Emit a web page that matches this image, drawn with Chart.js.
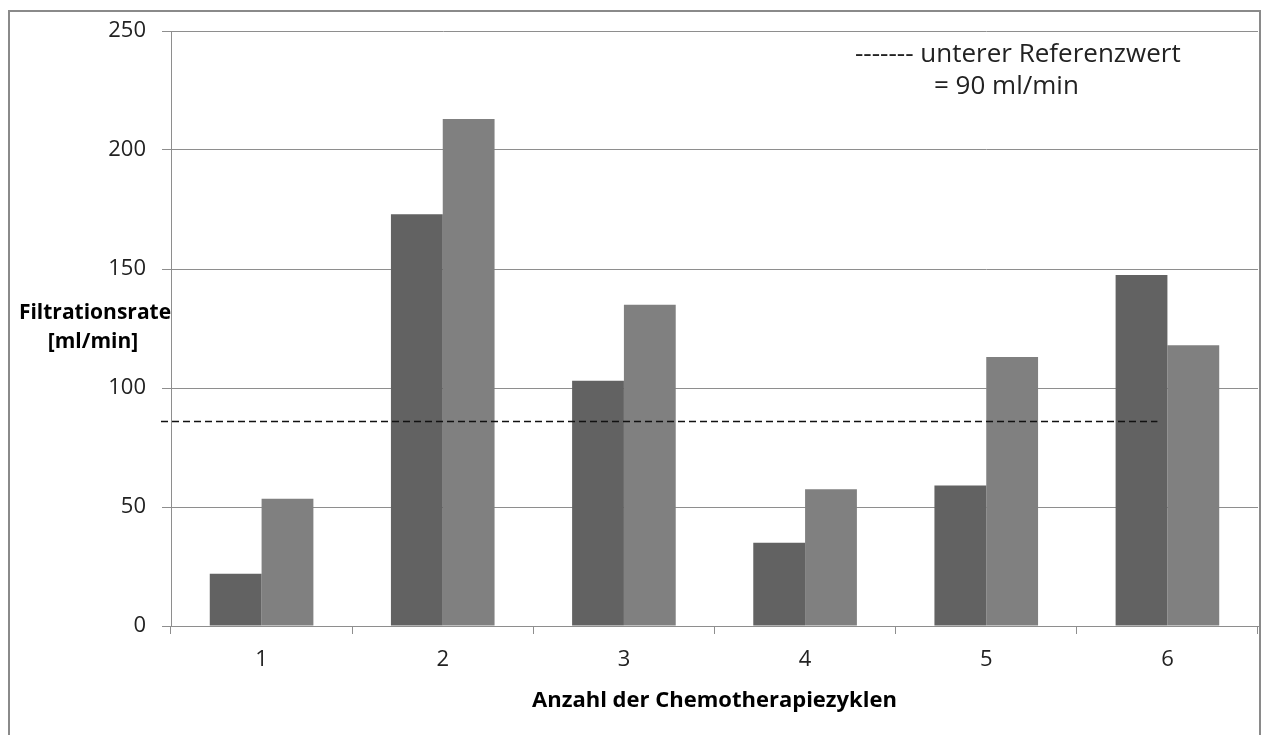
<!DOCTYPE html>
<html>
<head>
<meta charset="utf-8">
<script src="https://cdn.jsdelivr.net/npm/chart.js@4"></script>
<style>
  html, body { margin: 0; padding: 0; background: #fff; }
  #wrap { width: 1265px; height: 735px; }
</style>
</head>
<body>
<div id="wrap"><canvas id="chart" width="1265" height="735"></canvas></div>
<script>
const zyklen = ["1", "2", "3", "4", "5", "6"];
const werteA = [22, 173, 103, 35, 59, 147.5];
const werteB = [53.5, 213, 135, 57.5, 113, 118];
const yTicks = [0, 50, 100, 150, 200, 250];
const referenzWert = 86;
const referenzText = ["------- unterer Referenzwert", "= 90 ml/min"];
const yTitel = ["Filtrationsrate", "[ml/min]"];
const xTitel = "Anzahl der Chemotherapiezyklen";

const FONT = "'Open Sans', Lato, sans-serif";
const GRID = "#8e8e8e";

// Rahmen, Referenzlinie und Beschriftungen
const extras = {
  id: "extras",
  beforeDraw(chart) {
    const c = chart.ctx;
    c.save();
    c.fillStyle = "#fff";
    c.fillRect(0, 0, chart.width, chart.height);
    c.strokeStyle = "#8a8a8a";
    c.lineWidth = 2;
    c.strokeRect(9, 11, chart.width - 14, chart.height + 10);
    c.restore();
  },
  afterDatasetsDraw(chart) {
    const c = chart.ctx;
    const x = chart.scales.x, y = chart.scales.y;
    const yRef = Math.round(y.getPixelForValue(referenzWert)) + 0.5;
    c.save();
    c.strokeStyle = "#111";
    c.lineWidth = 1.3;
    c.setLineDash([7, 4]);
    c.beginPath();
    c.moveTo(chart.chartArea.left - 10, yRef);
    c.lineTo(x.getPixelForValue(5) - 10, yRef);
    c.stroke();
    c.setLineDash([]);

    c.fillStyle = "#222";
    c.font = "26px " + FONT;
    c.textBaseline = "middle";
    c.textAlign = "left";
    c.fillText(referenzText[0], 855, 55);
    c.fillText(referenzText[1], 934, 87);

    c.fillStyle = "#000";
    c.font = "bold 21px " + FONT;
    c.textAlign = "center";
    c.fillText(yTitel[0], 95, 313);
    c.fillText(yTitel[1], 93, 342);
    c.restore();
  }
};

new Chart(document.getElementById("chart"), {
  type: "bar",
  data: {
    labels: zyklen,
    datasets: [
      { label: "A", data: werteA, backgroundColor: "#626262" },
      { label: "B", data: werteB, backgroundColor: "#808080" }
    ]
  },
  options: {
    responsive: false,
    animation: false,
    layout: { padding: { top: 31, right: 7, left: 0, bottom: 0 } },
    datasets: { bar: { categoryPercentage: 0.572, barPercentage: 1.0 } },
    plugins: { legend: { display: false }, tooltip: { enabled: false } },
    scales: {
      x: {
        afterFit(s) { s.height = 109; },
        grid: { display: true, drawOnChartArea: false, offset: true, tickLength: 8, color: GRID },
        border: { color: GRID, width: 1 },
        ticks: { color: "#222", font: { family: FONT, size: 22 }, padding: 13 },
        title: {
          display: true, text: xTitel, color: "#000",
          font: { family: FONT, size: 22, weight: "bold" },
          padding: { top: 0, bottom: 21 }
        }
      },
      y: {
        min: 0, max: 250,
        afterFit(s) { s.width = 171; },
        afterBuildTicks(s) { s.ticks = yTicks.map(v => ({ value: v })); },
        grid: { color: GRID, tickLength: 9, lineWidth: 1 },
        border: { color: GRID, width: 1 },
        ticks: { color: "#222", font: { family: FONT, size: 22 }, padding: 16 }
      }
    }
  },
  plugins: [extras]
});
</script>
</body>
</html>
